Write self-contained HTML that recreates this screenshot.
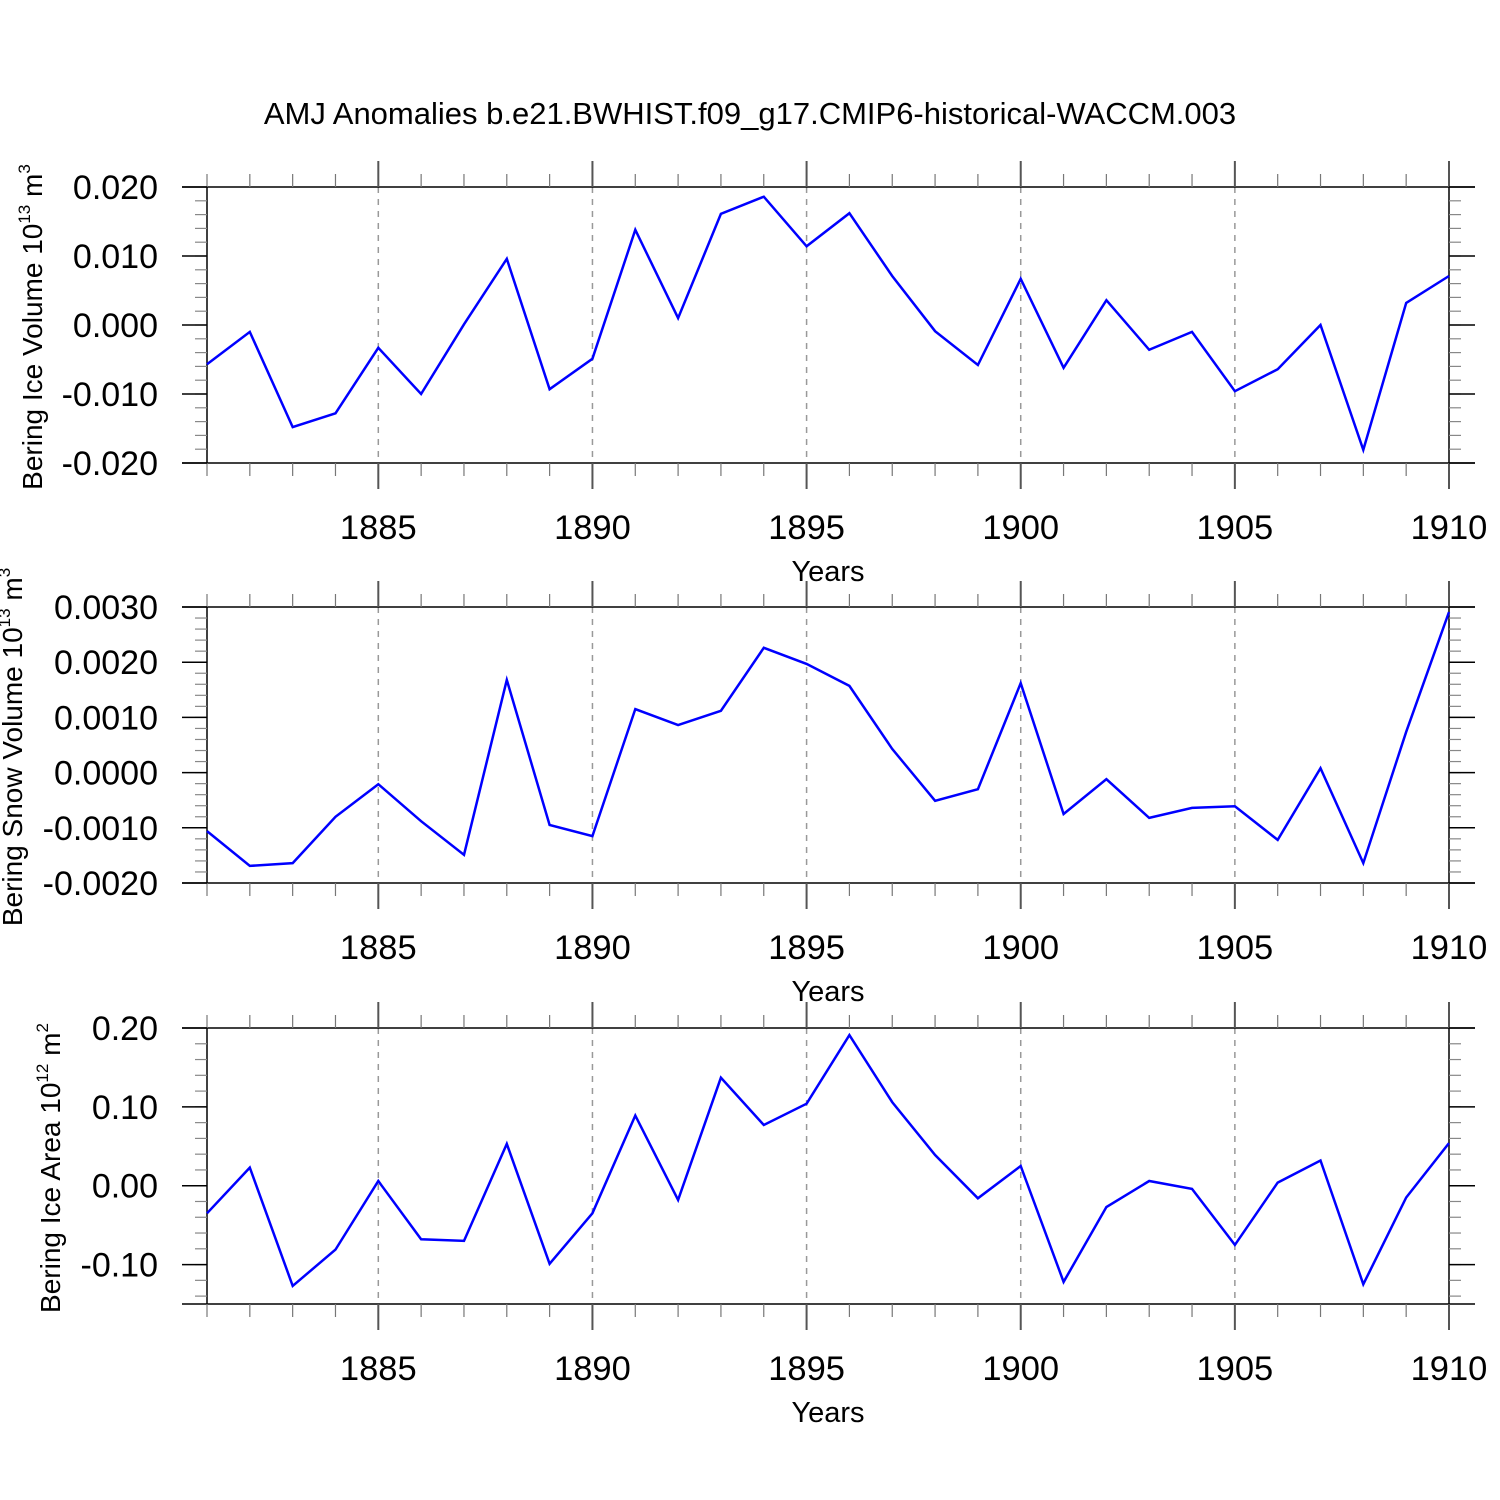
<!DOCTYPE html>
<html><head><meta charset="utf-8"><style>
html,body{margin:0;padding:0;background:#fff;}
svg{display:block;font-family:"Liberation Sans",sans-serif;}
</style></head><body>
<svg id="c" width="1500" height="1500" viewBox="0 0 1500 1500">
<text x="750" y="124" font-size="31" text-anchor="middle">AMJ Anomalies b.e21.BWHIST.f09_g17.CMIP6-historical-WACCM.003</text>
</svg>
<script>
const years = [1881,1882,1883,1884,1885,1886,1887,1888,1889,1890,1891,1892,1893,1894,1895,1896,1897,1898,1899,1900,1901,1902,1903,1904,1905,1906,1907,1908,1909,1910];
const iceVolume = [-0.0057,-0.0010,-0.0148,-0.0128,-0.0033,-0.0100,0.0001,0.0096,-0.0093,-0.0049,0.0138,0.0010,0.0161,0.0186,0.0114,0.0162,0.0071,-0.0009,-0.0058,0.0067,-0.0062,0.0036,-0.0036,-0.0010,-0.0096,-0.0064,0.0000,-0.0181,0.0032,0.0071];
const snowVolume = [-0.00106,-0.00169,-0.00164,-0.00080,-0.00021,-0.00088,-0.00149,0.00168,-0.00095,-0.00115,0.00115,0.00086,0.00112,0.00226,0.00197,0.00157,0.00043,-0.00051,-0.00030,0.00162,-0.00075,-0.00012,-0.00082,-0.00064,-0.00061,-0.00122,0.00008,-0.00164,0.00074,0.00291];
const iceArea = [-0.035,0.023,-0.127,-0.081,0.006,-0.068,-0.070,0.053,-0.099,-0.035,0.089,-0.018,0.137,0.077,0.104,0.191,0.106,0.039,-0.016,0.025,-0.122,-0.027,0.006,-0.004,-0.075,0.004,0.032,-0.125,-0.015,0.054];
const xTicks = [1885,1890,1895,1900,1905,1910];
const volTicks = [0.020,0.010,0.000,-0.010,-0.020];
const volLabels = ["0.020","0.010","0.000","-0.010","-0.020"];
const snowTicks = [0.0030,0.0020,0.0010,0.0,-0.0010,-0.0020];
const snowLabels = ["0.0030","0.0020","0.0010","0.0000","-0.0010","-0.0020"];
const areaTicks = [0.20,0.10,0.00,-0.10];
const areaLabels = ["0.20","0.10","0.00","-0.10"];

const NS="http://www.w3.org/2000/svg";
const svg=document.getElementById('c');
function mk(tag,attrs,parent){const e=document.createElementNS(NS,tag);for(const k in attrs)e.setAttribute(k,attrs[k]);(parent||svg).appendChild(e);return e;}
const X0=207,X1=1449,XMIN=1881,XMAX=1910;
function xs(v){return X0+(v-XMIN)/(XMAX-XMIN)*(X1-X0);}

const panels=[
 {name:'ice-volume',top:187,bot:463,ymax:0.020,ymin:-0.020,data:iceVolume,ticks:volTicks,labels:volLabels,minorStep:0.002,title:['Bering Ice Volume 10','13',' m','3'],tx:42},
 {name:'snow-volume',top:607,bot:883,ymax:0.0030,ymin:-0.0020,data:snowVolume,ticks:snowTicks,labels:snowLabels,minorStep:0.0002,title:['Bering Snow Volume 10','13',' m','3'],tx:22},
 {name:'ice-area',top:1028,bot:1304,ymax:0.20,ymin:-0.15,data:iceArea,ticks:areaTicks,labels:areaLabels,minorStep:0.02,title:['Bering Ice Area 10','12',' m','2'],tx:60}
];
panels.forEach(p=>{
 const g=mk('g',{});
 
 
 const ys=v=>p.top+(p.ymax-v)/(p.ymax-p.ymin)*(p.bot-p.top);
 xTicks.forEach(t=>{if(t<XMAX){const l=mk('line',{x1:xs(t),x2:xs(t),y1:p.top,y2:p.bot,stroke:'#999','stroke-width':1.5,'stroke-dasharray':'6,6'},g);
 
 }});
 mk('line',{x1:182,x2:1475,y1:p.top,y2:p.top,stroke:'#000','stroke-width':1.5},g);
 mk('line',{x1:182,x2:1475,y1:p.bot,y2:p.bot,stroke:'#000','stroke-width':1.5},g);
 mk('line',{x1:X0,x2:X0,y1:p.top,y2:p.bot,stroke:'#000','stroke-width':1.5},g);
 mk('line',{x1:X1,x2:X1,y1:p.top,y2:p.bot,stroke:'#000','stroke-width':1.5},g);
 years.forEach(yr=>{
  const maj=xTicks.indexOf(yr)>=0, x=xs(yr), len=maj?26:13;
  mk('line',{x1:x,x2:x,y1:p.top-len,y2:p.top,stroke:maj?'#555':'#777','stroke-width':maj?2:1.2},g);
  mk('line',{x1:x,x2:x,y1:p.bot,y2:p.bot+len,stroke:maj?'#555':'#777','stroke-width':maj?2:1.2},g);
 });
 xTicks.forEach(t=>{const tx=mk('text',{x:xs(t),y:p.bot+76,'font-size':34.5,'text-anchor':'middle'},g);tx.textContent=t;
 
 });
 const xt=mk('text',{x:828,y:p.bot+118,'font-size':29,'text-anchor':'middle'},g);xt.textContent='Years';
 
 
 const n=Math.floor((p.ymax-p.ymin)/p.minorStep+1e-6);
 for(let i=0;i<=n;i++){const v=p.ymax-i*p.minorStep,y=ys(v);
  mk('line',{x1:195,x2:X0,y1:y,y2:y,stroke:'#888','stroke-width':1.2},g);
  mk('line',{x1:X1,x2:X1+12,y1:y,y2:y,stroke:'#888','stroke-width':1.2},g);}
 p.ticks.forEach((t,i)=>{const y=ys(t);
  mk('line',{x1:182,x2:X0,y1:y,y2:y,stroke:'#000','stroke-width':1.5},g);
  mk('line',{x1:X1,x2:1475,y1:y,y2:y,stroke:'#000','stroke-width':1.5},g);
  const tx=mk('text',{x:158,y:y+12,'font-size':34,'text-anchor':'end'},g);tx.textContent=p.labels[i];
  
  });
 const cy=(p.top+p.bot)/2+2;
 const tt=mk('text',{x:0,y:0,'font-size':28,'text-anchor':'middle',transform:`translate(${p.tx},${cy}) rotate(-90)`},g);
 
 
 [[p.title[0],0],[p.title[1],-12],[p.title[2],12],[p.title[3],-12]].forEach((s,i)=>{
  const ts=mk('tspan',{},tt);
  if(i%2==1){ts.setAttribute('font-size','17');ts.setAttribute('dy',s[1]);}else if(i==2){ts.setAttribute('dy',s[1]);}
  ts.textContent=s[0];});
 const pts=p.data.map((v,i)=>xs(years[i]).toFixed(1)+','+ys(v).toFixed(1)).join(' ');
 const pl=mk('polyline',{points:pts,fill:'none',stroke:'#0000ff','stroke-width':2.5,'stroke-linejoin':'miter'},g);
 
 
});
</script>
</body></html>
